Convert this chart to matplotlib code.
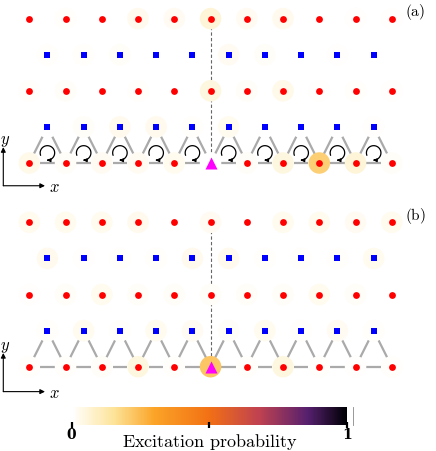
import numpy as np
import matplotlib
matplotlib.use('Agg')
import matplotlib.pyplot as plt
from matplotlib.colors import LinearSegmentedColormap
from matplotlib.path import Path
from matplotlib.patches import FancyArrowPatch
from matplotlib.lines import Line2D

plt.rcParams['mathtext.fontset'] = 'cm'

# lattice: red rows have sites at x = 0..10, blue rows at x = 0.5..9.5
red_x = np.arange(11)
blue_x = np.arange(10) + 0.5
emitter_col = 5

# excitation probability per site, rows from bottom (0) to top (4)
# panel (a)
a_row0 = [0.035, 0.015, 0.02, 0.02, 0.025, 0.0, 0.015, 0.05, 0.2, 0.06, 0.015]
a_row1 = [0.0, 0.012, 0.03, 0.03, 0.01, 0.025, 0.0, 0.0, 0.0, 0.005]
a_row2 = [0.008, 0.015, 0.0, 0.008, 0.003, 0.05, 0.015, 0.035, 0.005, 0.01, 0.005]
a_row3 = [0.008, 0.01, 0.015, 0.0, 0.0, 0.02, 0.012, 0.0, 0.005, 0.0]
a_row4 = [0.0, 0.01, 0.0, 0.03, 0.02, 0.06, 0.02, 0.03, 0.0, 0.005, 0.005]
# panel (b)
b_row0 = [0.008, 0.01, 0.012, 0.05, 0.01, 0.22, 0.01, 0.05, 0.01, 0.006, 0.008]
b_row1 = [0.008, 0.025, 0.01, 0.025, 0.02, 0.012, 0.025, 0.01, 0.02, 0.008]
b_row2 = [0.005, 0.015, 0.025, 0.012, 0.012, 0.012, 0.015, 0.015, 0.025, 0.015, 0.003]
b_row3 = [0.03, 0.005, 0.01, 0.008, 0.03, 0.03, 0.008, 0.008, 0.008, 0.025]
b_row4 = [0.025, 0.025, 0.025, 0.03, 0.0, 0.02, 0.0, 0.025, 0.025, 0.02, 0.025]

panels = [
    ('(a)', 5.643, [a_row0, a_row1, a_row2, a_row3, a_row4], True, -0.63),
    ('(b)', 0.0, [b_row0, b_row1, b_row2, b_row3, b_row4], False, -0.69),
]

cmap = LinearSegmentedColormap.from_list('exc', [
    (0.0, '#ffffff'), (0.15, '#fde49a'), (0.3, '#fba428'), (0.5, '#f27014'),
    (0.68, '#c04250'), (0.86, '#55206e'), (1.0, '#000004')])

fig = plt.figure(figsize=(4.36, 4.52), dpi=100)
ax = fig.add_axes([0, 0, 1, 1])
ax.set_xlim(-0.808, 11.219)
ax.set_ylim(-2.335, 10.186)
ax.axis('off')

gray = '#aaaaaa'
for label, y0, rows, chiral, ax_off in panels:
    # bonds of the bottom zig-zag chain
    for c in range(10):
        ax.plot([c + 0.3, c + 0.7], [y0, y0], color=gray, lw=1.6, zorder=1,
                solid_capstyle='butt')
        for x_start, x_end in [(c, c + 0.5), (c + 1, c + 0.5)]:
            t = np.array([0.15, 0.73])
            ax.plot(x_start + t * (x_end - x_start), y0 + t, color=gray, lw=1.6,
                    zorder=1, solid_capstyle='butt')
    # dashed line through the emitter column
    ax.plot([emitter_col, emitter_col], [y0, y0 + 4], color='#666666', lw=0.8,
            ls=(0, (3, 2)), zorder=1)

    # halos coloured by excitation probability
    for r, vals in enumerate(rows):
        xs = red_x if r % 2 == 0 else blue_x
        sc = ax.scatter(xs, np.full(len(xs), y0 + r), c=vals, cmap=cmap,
                        vmin=0, vmax=1, s=240, linewidths=0, zorder=2)

    for r in range(5):
        if r % 2 == 0:
            xs = red_x if r > 0 else red_x[red_x != emitter_col]
            ax.scatter(xs, np.full(len(xs), y0 + r), color='#ff0000', s=24,
                       linewidths=0, zorder=3)
        else:
            ax.scatter(blue_x, np.full(len(blue_x), y0 + r), color='#0000ff',
                       marker='s', s=15, linewidths=0, zorder=3)
    ax.scatter([emitter_col], [y0], color='#ff00ff', marker='^', s=75,
               linewidths=0, zorder=4)

    # chirality arrows inside the triangles
    if chiral:
        ang = np.radians(np.linspace(200, -95, 50))
        for c in range(10):
            cx, cy = c + 0.5, y0 + 0.28
            verts = np.column_stack([cx + 0.2 * np.cos(ang), cy + 0.2 * np.sin(ang)])
            arr = FancyArrowPatch(path=Path(verts), arrowstyle='-|>',
                                  mutation_scale=5, lw=0.9, color='k', zorder=5)
            ax.add_patch(arr)

    # coordinate axes
    ox, oy = -0.717, y0 + ax_off
    arrow = dict(arrowstyle='-|>', lw=0.8, color='k', shrinkA=0, shrinkB=0,
                 mutation_scale=7)
    ax.annotate('', xy=(0.433, oy), xytext=(ox, oy), arrowprops=arrow)
    ax.annotate('', xy=(ox, oy + 1.07), xytext=(ox, oy), arrowprops=arrow)
    ax.text(0.55, oy, '$x$', fontsize=12, ha='left', va='center')
    ax.text(ox + 0.05, oy + 1.3, '$y$', fontsize=12, ha='center', va='center')
    ax.text(10.64, y0 + 4.21, r'$\mathrm{' + label + '}$', fontsize=11,
            ha='center', va='center')

# colorbar
cax = fig.add_axes([0.1644, 0.0575, 0.6307, 0.0398])
cb = fig.colorbar(sc, cax=cax, orientation='horizontal', ticks=[0, 0.5, 1])
cb.outline.set_visible(False)
cb.ax.set_xticklabels(['0', '', '1'], fontsize=10, fontweight='bold',
                      family='DejaVu Serif')
cb.ax.tick_params(direction='inout', length=5, width=1.6, pad=-1)
fig.text(210 / 436, 1 - 442 / 452, r'$\mathrm{Excitation\ probability}$',
         fontsize=13, ha='center', va='center')
fig.add_artist(Line2D([352.7 / 436, 352.7 / 436], [1 - 408 / 452, 1 - 426 / 452],
                      color='#888888', lw=0.6))

fig.savefig('out.png', dpi=100)
